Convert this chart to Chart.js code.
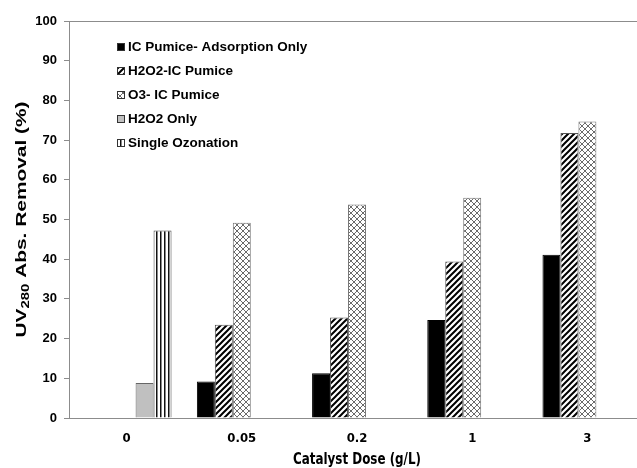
<!DOCTYPE html>
<html>
<head>
<meta charset="utf-8">
<script src="https://cdn.jsdelivr.net/npm/chart.js@4.4.1/dist/chart.umd.min.js"></script>
<style>
    html, body { margin: 0; padding: 0; background: #fff; overflow: hidden; }
    #wrap { width: 650px; height: 468px; }
</style>
</head>
<body>
<div id="wrap"><canvas id="chart" width="650" height="468"></canvas></div>
<script>
// Chart values.
var categories = ['0', '0.05', '0.2', '1', '3'];
var adsorptionOnly = [null, 9.2, 11.3, 24.7, 41.1];
var h2o2Pumice = [null, 23.5, 25.3, 39.4, 71.8];
var o3Pumice = [null, 49.2, 53.8, 55.5, 74.7];
var h2o2Only = [8.8, null, null, null, null];
var singleOzonation = [47.2, null, null, null, null];
var yTicks = [0, 10, 20, 30, 40, 50, 60, 70, 80, 90, 100];

var seriesNames = [
    'IC Pumice- Adsorption Only',
    'H2O2-IC Pumice',
    'O3- IC Pumice',
    'H2O2 Only',
    'Single Ozonation'
];

var ARIAL = '"Liberation Sans", Arial, sans-serif';
var NARROW = '"Liberation Sans Narrow", "DejaVu Sans Condensed", sans-serif';

/**
 * Builds a canvas pattern from a small drawing routine.
 */
function makePattern(w, h, draw) {
    var c = document.createElement('canvas');
    c.width = w;
    c.height = h;
    var g = c.getContext('2d');
    g.fillStyle = '#fff';
    g.fillRect(0, 0, w, h);
    draw(g);
    return document.getElementById('chart').getContext('2d').createPattern(c, 'repeat');
}

var diagFill = makePattern(6, 6, function (g) {
    g.strokeStyle = '#000';
    g.lineWidth = 2;
    g.beginPath();
    g.moveTo(-1, 7); g.lineTo(7, -1);
    g.moveTo(-4, 4); g.lineTo(4, -4);
    g.moveTo(2, 10); g.lineTo(10, 2);
    g.stroke();
});

var crossFill = makePattern(6, 6, function (g) {
    g.strokeStyle = '#6a6a6a';
    g.lineWidth = 1;
    g.beginPath();
    g.moveTo(0, 6); g.lineTo(6, 0);
    g.moveTo(0, 0); g.lineTo(6, 6);
    g.stroke();
});

var vertFill = makePattern(4, 4, function (g) {
    g.fillStyle = '#111';
    g.fillRect(0, 0, 1.5, 4);
});

var fills = ['#000', diagFill, crossFill, '#c0c0c0', vertFill];
var borders = ['#000', '#555', '#777', '#666', '#444'];
var seriesData = [adsorptionOnly, h2o2Pumice, o3Pumice, h2o2Only, singleOzonation];

/**
 * Draws the plot frame, the custom legend and the axis titles.
 */
var decorations = {
    id: 'decorations',
    afterDraw: function (chart) {
        var ctx = chart.ctx, a = chart.chartArea, i, y;

        ctx.save();
        ctx.strokeStyle = '#8c8c8c';
        ctx.lineWidth = 1;
        ctx.strokeRect(a.left + 0.5, a.top + 0.5, a.right - a.left, a.bottom - a.top);

        // Legend
        ctx.font = 'bold 13.5px ' + ARIAL;
        ctx.textBaseline = 'middle';
        ctx.textAlign = 'left';
        for (i = 0; i < seriesNames.length; i++) {
            y = 47 + i * 24;
            ctx.fillStyle = fills[i];
            ctx.fillRect(117, y - 4, 8, 8);
            ctx.strokeStyle = '#333';
            ctx.strokeRect(117.5, y - 3.5, 7, 7);
            ctx.fillStyle = '#000';
            ctx.fillText(seriesNames[i], 128, y);
        }

        // Y axis title with subscript, stretched along its length like the source
        var big = 'bold 14px ' + ARIAL, small = 'bold 10px ' + ARIAL;
        var p1 = 'UV', p2 = '280', p3 = ' Abs. Removal (%)';
        ctx.font = big;
        var w1 = ctx.measureText(p1).width, w3 = ctx.measureText(p3).width;
        ctx.font = small;
        var w2 = ctx.measureText(p2).width;
        var total = w1 + w2 + w3;
        var stretch = 236 / total;
        ctx.translate(21, (a.top + a.bottom) / 2);
        ctx.rotate(-Math.PI / 2);
        ctx.scale(stretch, 1);
        ctx.textBaseline = 'alphabetic';
        ctx.fillStyle = '#000';
        ctx.font = big;
        ctx.fillText(p1, -total / 2, 5);
        ctx.font = small;
        ctx.fillText(p2, -total / 2 + w1, 8);
        ctx.font = big;
        ctx.fillText(p3, -total / 2 + w1 + w2, 5);
        ctx.restore();

        // X axis title, condensed
        ctx.save();
        var xt = 'Catalyst Dose (g/L)';
        ctx.font = 'bold 15px ' + NARROW;
        var sq = 128 / ctx.measureText(xt).width;
        ctx.translate((a.left + a.right) / 2, 460);
        ctx.scale(sq, 1);
        ctx.fillStyle = '#000';
        ctx.textAlign = 'center';
        ctx.textBaseline = 'middle';
        ctx.fillText(xt, 0, 0);
        ctx.restore();
    }
};

var datasets = [];
for (var k = 0; k < seriesNames.length; k++) {
    datasets.push({
        label: seriesNames[k],
        data: seriesData[k],
        backgroundColor: fills[k],
        borderColor: borders[k],
        borderWidth: 1,
        categoryPercentage: 0.78,
        barPercentage: 1
    });
}

new Chart(document.getElementById('chart'), {
    type: 'bar',
    data: { labels: categories, datasets: datasets },
    options: {
        responsive: false,
        animation: false,
        layout: { padding: { top: 21, right: 5, left: 0, bottom: 0 } },
        plugins: { legend: { display: false }, tooltip: { enabled: false } },
        scales: {
            x: {
                grid: { display: false, drawTicks: false },
                border: { display: false },
                ticks: { color: '#000', font: { family: NARROW, size: 13, weight: 'bold' }, padding: 13 },
                afterFit: function (s) { s.height = 50; }
            },
            y: {
                min: 0,
                max: 100,
                afterBuildTicks: function (s) { s.ticks = yTicks.map(function (v) { return { value: v }; }); },
                grid: { drawOnChartArea: false, tickLength: 5, color: '#8c8c8c' },
                border: { display: false },
                ticks: { color: '#000', font: { family: ARIAL, size: 13, weight: 'bold' }, padding: 7 },
                afterFit: function (s) { s.width = 69; }
            }
        }
    },
    plugins: [decorations]
});
</script>
</body>
</html>
